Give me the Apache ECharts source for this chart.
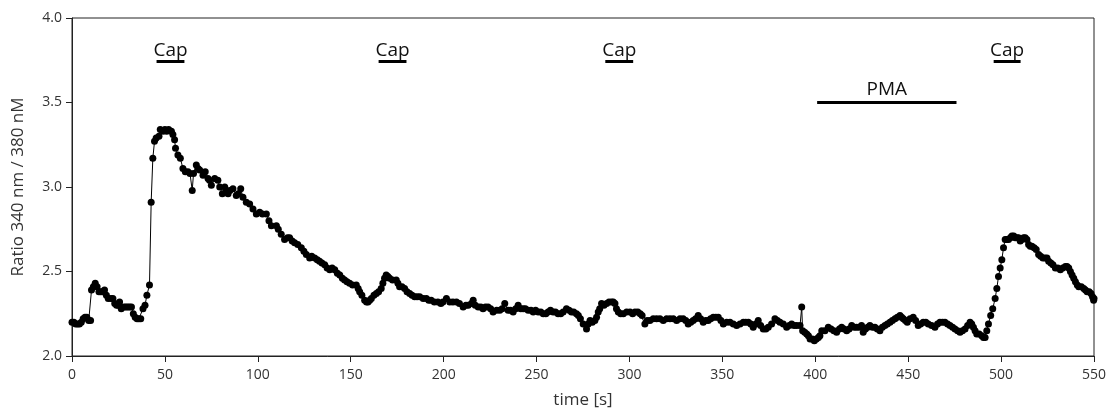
<!DOCTYPE html>
<html>
<head>
<meta charset="utf-8">
<script src="https://cdn.jsdelivr.net/npm/echarts@6/dist/echarts.min.js"></script>
<style>
  html, body {margin: 0; padding: 0; background: #fff;}
  #chart {width: 1110px; height: 414px;}
</style>
</head>
<body>
<div id="chart"></div>
<script>
// time [s] and fura-2 ratio
const times = [0, 1, 2, 3, 4, 5, 6, 7, 8, 9, 10, 10.5, 11.5, 12.5, 13.5, 14.5, 15.5, 16.5, 17.5, 18.5, 19.5, 21, 22, 23, 24, 25, 25.6, 26.5, 28, 29, 30, 31, 32, 33, 34, 35, 36, 37, 38.2, 39.3, 40.3, 41.7, 42.6, 43.5, 44.4, 45.3, 46.8, 47.5, 49, 50, 51, 52, 53.5, 54.3, 55.2, 55.7, 57, 58.3, 59.7, 61, 62.4, 63.5, 64.7, 65.4, 66.9, 67.8, 68.7, 70.5, 71.7, 73.2, 74, 75, 76.8, 78.5, 79.5, 80.9, 82.2, 83, 84, 85, 86.6, 88.4, 89.5, 90.8, 92, 93.8, 95.6, 97.4, 99.2, 101, 102.5, 104.6, 106, 107.3, 110, 111, 112.6, 114.4, 116, 117.1, 118.5, 119.8, 121.5, 123.4, 124.8, 126.1, 127.9, 129, 130.6, 132, 133.2, 134.5, 136, 137.3, 138.7, 140, 141.4, 142.8, 144.1, 145.5, 146.7, 148, 149.4, 151, 153, 154, 154.8, 156, 157.5, 158.5, 159.3, 160.2, 161.1, 162.5, 163.8, 165, 166.4, 167.3, 168.2, 169.1, 170, 170.9, 172.5, 174.5, 175.4, 176.3, 177.6, 179, 180.3, 181.7, 183, 184.4, 185.7, 187.1, 189, 190.7, 192, 193.3, 195, 196.9, 198.5, 199.6, 201.5, 203.3, 205, 206.9, 208.5, 210.5, 212, 213.2, 215, 215.9, 217, 218.6, 220, 221.2, 222.5, 223.9, 225.3, 226.6, 228.5, 230.2, 231.5, 232.9, 234.7, 236, 237.4, 238.8, 240.1, 241.5, 242.8, 244, 245.5, 247, 248.2, 249.5, 250.9, 252.3, 253.6, 255, 256.2, 257.5, 258.9, 260.2, 261.6, 263, 264.3, 266.1, 267.5, 268.8, 270, 271.5, 272.5, 273.6, 275.1, 276.9, 277.8, 278.8, 280, 281.4, 282.3, 283.2, 284, 285, 286.3, 287.7, 289, 290.4, 291.3, 292.2, 293, 294, 295.3, 296.7, 298.5, 300.3, 301.7, 303, 304.5, 305.8, 306.8, 308.3, 309.5, 311, 312.8, 314.6, 316.4, 318.2, 320, 321.8, 323.6, 325.4, 327.2, 328.9, 330.3, 331.6, 333, 334.3, 335.6, 337, 338.3, 339.7, 341, 342.4, 343.7, 345.1, 346.5, 347.8, 349.2, 350.5, 352.3, 354.1, 355.9, 357.7, 359.5, 361.3, 362.6, 364, 365.3, 366.6, 368, 369.3, 370.6, 372, 373.4, 374.7, 376.5, 378.3, 379.6, 381, 382.8, 384.6, 386, 387.3, 388.6, 390, 391.8, 392.7, 393.2, 394.3, 395.4, 396.3, 397.2, 398.4, 399.5, 400.6, 401.7, 402.5, 403.5, 405.2, 407, 408.5, 410, 411.5, 413, 414.2, 415.5, 416.9, 418.2, 419.6, 420.9, 422.2, 423.6, 424.9, 425.8, 427, 428.2, 429.4, 430.8, 432.1, 433.4, 434.8, 436.1, 437.5, 438.8, 440.2, 441.5, 442.9, 444.2, 445.6, 446.5, 447.4, 448.5, 449.5, 451, 452.7, 454, 455.4, 456.7, 458.1, 459.5, 460.8, 462.6, 464.4, 465.8, 467.1, 468.5, 469.8, 471.2, 472.5, 473.9, 475.2, 476.6, 477.9, 479.2, 480.6, 482, 483.3, 484.2, 485.1, 486, 486.9, 488.2, 489.6, 490.5, 491.4, 492.3, 493.2, 494.4, 495.5, 496.8, 497.7, 498.6, 499.5, 500.4, 501.3, 502.2, 503.1, 504, 505, 505.8, 506.8, 507.6, 508.5, 509.4, 510.3, 511.2, 512.1, 513, 513.9, 514.8, 515.7, 516.6, 517.8, 518.9, 520.2, 521.3, 522.5, 523.6, 524.7, 525.6, 526.8, 527.9, 529.2, 530.5, 531.9, 533.2, 534.6, 535.5, 536.4, 537.3, 538.2, 539.1, 540, 541, 541.8, 543.2, 544.5, 545.4, 546.3, 547.4, 548.4, 549.2, 549.8, 550];
const ratio = [2.20, 2.20, 2.19, 2.19, 2.19, 2.20, 2.22, 2.23, 2.23, 2.21, 2.21, 2.39, 2.41, 2.43, 2.41, 2.38, 2.38, 2.38, 2.39, 2.36, 2.34, 2.34, 2.34, 2.31, 2.30, 2.30, 2.32, 2.28, 2.29, 2.29, 2.29, 2.29, 2.29, 2.25, 2.23, 2.22, 2.22, 2.22, 2.28, 2.30, 2.36, 2.42, 2.91, 3.17, 3.27, 3.29, 3.30, 3.34, 3.33, 3.34, 3.33, 3.34, 3.33, 3.31, 3.28, 3.23, 3.19, 3.17, 3.11, 3.09, 3.09, 3.08, 2.98, 3.08, 3.13, 3.11, 3.10, 3.07, 3.09, 3.05, 3.04, 3.01, 3.05, 3.04, 3.00, 2.96, 3.00, 2.98, 2.96, 2.98, 2.99, 2.95, 2.96, 2.99, 2.94, 2.91, 2.90, 2.87, 2.84, 2.85, 2.84, 2.84, 2.80, 2.77, 2.77, 2.75, 2.72, 2.69, 2.70, 2.70, 2.68, 2.67, 2.66, 2.64, 2.62, 2.60, 2.58, 2.59, 2.58, 2.57, 2.56, 2.55, 2.54, 2.52, 2.51, 2.52, 2.51, 2.49, 2.48, 2.46, 2.45, 2.44, 2.43, 2.42, 2.42, 2.40, 2.38, 2.36, 2.33, 2.32, 2.32, 2.33, 2.34, 2.36, 2.37, 2.38, 2.40, 2.43, 2.46, 2.48, 2.47, 2.46, 2.45, 2.45, 2.43, 2.41, 2.41, 2.40, 2.38, 2.37, 2.36, 2.35, 2.35, 2.35, 2.34, 2.34, 2.33, 2.33, 2.32, 2.32, 2.31, 2.32, 2.34, 2.32, 2.32, 2.32, 2.31, 2.29, 2.30, 2.30, 2.31, 2.33, 2.30, 2.29, 2.29, 2.28, 2.29, 2.29, 2.28, 2.26, 2.27, 2.27, 2.28, 2.31, 2.27, 2.27, 2.26, 2.28, 2.30, 2.28, 2.28, 2.28, 2.27, 2.27, 2.26, 2.27, 2.26, 2.26, 2.25, 2.25, 2.26, 2.27, 2.26, 2.26, 2.25, 2.25, 2.26, 2.28, 2.27, 2.26, 2.26, 2.25, 2.24, 2.22, 2.19, 2.16, 2.19, 2.21, 2.20, 2.21, 2.23, 2.26, 2.28, 2.31, 2.30, 2.31, 2.32, 2.32, 2.32, 2.31, 2.28, 2.26, 2.25, 2.25, 2.26, 2.26, 2.25, 2.26, 2.26, 2.25, 2.24, 2.19, 2.21, 2.21, 2.22, 2.22, 2.22, 2.21, 2.22, 2.22, 2.22, 2.21, 2.22, 2.22, 2.21, 2.19, 2.20, 2.21, 2.22, 2.24, 2.22, 2.20, 2.21, 2.21, 2.22, 2.23, 2.23, 2.23, 2.21, 2.19, 2.20, 2.20, 2.19, 2.18, 2.19, 2.20, 2.20, 2.20, 2.19, 2.17, 2.19, 2.21, 2.18, 2.16, 2.16, 2.17, 2.19, 2.22, 2.21, 2.20, 2.19, 2.17, 2.18, 2.19, 2.18, 2.18, 2.18, 2.29, 2.15, 2.14, 2.13, 2.12, 2.10, 2.10, 2.09, 2.10, 2.11, 2.12, 2.15, 2.15, 2.17, 2.16, 2.15, 2.14, 2.16, 2.17, 2.16, 2.15, 2.16, 2.18, 2.17, 2.17, 2.17, 2.18, 2.14, 2.16, 2.17, 2.18, 2.17, 2.17, 2.16, 2.15, 2.17, 2.18, 2.19, 2.20, 2.21, 2.22, 2.23, 2.24, 2.23, 2.22, 2.21, 2.20, 2.22, 2.23, 2.21, 2.18, 2.19, 2.20, 2.20, 2.19, 2.18, 2.17, 2.19, 2.20, 2.20, 2.20, 2.19, 2.18, 2.17, 2.16, 2.15, 2.14, 2.15, 2.16, 2.18, 2.20, 2.19, 2.17, 2.15, 2.13, 2.13, 2.12, 2.11, 2.11, 2.15, 2.19, 2.24, 2.28, 2.34, 2.40, 2.47, 2.52, 2.57, 2.64, 2.69, 2.69, 2.69, 2.70, 2.71, 2.71, 2.70, 2.70, 2.70, 2.68, 2.69, 2.70, 2.70, 2.69, 2.66, 2.65, 2.65, 2.64, 2.63, 2.60, 2.59, 2.58, 2.58, 2.58, 2.56, 2.55, 2.54, 2.52, 2.52, 2.51, 2.52, 2.53, 2.53, 2.52, 2.50, 2.48, 2.46, 2.44, 2.42, 2.41, 2.41, 2.40, 2.39, 2.38, 2.38, 2.37, 2.35, 2.33, 2.34];

// stimulus bars: [start, end, label, level]
const stimuli = [
    [45.5, 60.5, 'Cap', 3.745],
    [165, 180, 'Cap', 3.745],
    [287, 302, 'Cap', 3.745],
    [496, 510.5, 'Cap', 3.745],
    [401, 476, 'PMA', 3.5]
];

const chart = echarts.init(document.getElementById('chart'));
const font = '"Open Sans", sans-serif';

const seriesData = times.map((t, i) => [t, ratio[i]]);

const markData = stimuli.map(s => [
    {
        coord: [s[0], s[3]],
        label: {
            show: true,
            formatter: s[2],
            position: 'middle',
            distance: s[2] === 'PMA' ? 3 : 1,
            color: '#111',
            fontSize: 19,
            fontFamily: font
        }
    },
    {coord: [s[1], s[3]]}
]);

chart.setOption({
    animation: false,
    backgroundColor: '#fff',
    grid: {
        left: 72,
        right: 16,
        top: 18,
        bottom: 56,
        show: true,
        borderColor: '#222',
        borderWidth: 1
    },
    xAxis: {
        type: 'value',
        min: 0,
        max: 550,
        interval: 50,
        name: 'time [s]',
        nameLocation: 'middle',
        nameGap: 36,
        nameTextStyle: {fontSize: 17, color: '#333', fontFamily: font},
        axisLine: {show: true, lineStyle: {color: '#222', width: 1}},
        axisTick: {show: true, length: 6, lineStyle: {color: '#222'}},
        axisLabel: {fontSize: 14, color: '#333', fontFamily: font, margin: 12},
        splitLine: {show: false}
    },
    yAxis: {
        type: 'value',
        min: 2,
        max: 4,
        interval: 0.5,
        name: 'Ratio 340 nm / 380 nM',
        nameLocation: 'middle',
        nameGap: 45,
        nameTextStyle: {fontSize: 17, color: '#333', fontFamily: font},
        axisLine: {show: true, lineStyle: {color: '#222', width: 1}},
        axisTick: {show: true, length: 6, lineStyle: {color: '#222'}},
        axisLabel: {
            fontSize: 14, color: '#333', fontFamily: font, margin: 10,
            formatter: v => v.toFixed(1)
        },
        splitLine: {show: false}
    },
    series: [{
        type: 'line',
        data: seriesData,
        symbol: 'circle',
        symbolSize: 7,
        showAllSymbol: true,
        itemStyle: {color: '#000'},
        lineStyle: {color: '#000', width: 1},
        markLine: {
            silent: true,
            symbol: ['none', 'none'],
            lineStyle: {color: '#000', width: 3, type: 'solid'},
            data: markData
        }
    }]
});
</script>
</body>
</html>
